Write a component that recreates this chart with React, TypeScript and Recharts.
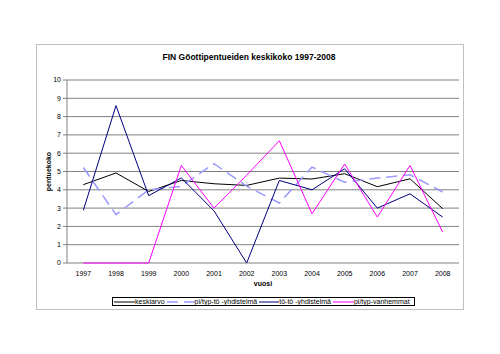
import React from 'react';
import { LineChart, Line, XAxis, YAxis, CartesianGrid, Legend } from 'recharts';

const years = [1997, 1998, 1999, 2000, 2001, 2002, 2003, 2004, 2005, 2006, 2007, 2008];
const keskiarvo = [4.28, 4.92, 3.91, 4.51, 4.33, 4.24, 4.64, 4.59, 4.88, 4.17, 4.6, 2.97];
const piTypTo = [5.22, 2.64, 4.0, 4.19, 5.43, 4.2, 3.28, 5.24, 4.41, 4.64, 4.82, 3.88];
const toTo = [2.88, 8.6, 3.68, 4.65, 2.85, 0, 4.51, 4.0, 5.15, 3.0, 3.78, 2.51];
const piTypVanhemmat = [0, 0, 0, 5.33, 3.0, 4.8, 6.68, 2.69, 5.41, 2.51, 5.33, 1.69];
const yTicks = [0, 1, 2, 3, 4, 5, 6, 7, 8, 9, 10];
const boundaryTicks = [1996.5, ...years.map((y) => y + 0.5)];

const data = years.map((year, i) => ({
  year,
  keskiarvo: keskiarvo[i],
  piTypTo: piTypTo[i],
  toTo: toTo[i],
  piTypVanhemmat: piTypVanhemmat[i],
}));

const series = [
  { key: 'keskiarvo', name: 'keskiarvo', color: '#000000', dash: undefined, lineW: 21 },
  { key: 'piTypTo', name: 'pi/typ-tö -yhdistelmä', color: '#9999FF', dash: '11 6', lineW: 28 },
  { key: 'toTo', name: 'tö-tö -yhdistelmä', color: '#000080', dash: undefined, lineW: 20 },
  { key: 'piTypVanhemmat', name: 'pi/typ-vanhemmat', color: '#FF00FF', dash: undefined, lineW: 21 },
];

const font = '"Liberation Sans", Arial, sans-serif';

const renderLegend = () => (
  <div
    style={{
      display: 'flex',
      alignItems: 'center',
      gap: 2,
      border: '1px solid #000',
      height: 9,
      padding: '0 1px',
      fontSize: 7,
      fontFamily: font,
      lineHeight: '9px',
      boxSizing: 'border-box',
      background: '#fff',
      color: '#000',
    }}
  >
    {series.map((s) => (
      <div key={s.key} style={{ display: 'flex', alignItems: 'center' }}>
        <svg width={s.lineW} height={4} style={{ display: 'block' }}>
          <line x1={0} y1={2} x2={s.lineW} y2={2} stroke={s.color} strokeWidth={s.dash ? 1.5 : 1} strokeDasharray={s.dash} />
        </svg>
        <span>{s.name}</span>
      </div>
    ))}
  </div>
);

const App: React.FC = () => {
  return (
    <div style={{ position: 'absolute', left: 0, top: 0, width: 500, height: 354, background: '#fff', fontFamily: font }}>
      <div
        style={{
          position: 'absolute',
          left: 36,
          top: 44,
          width: 426,
          height: 264,
          border: '1px solid #C0C0C0',
        }}
      />
      <div
        style={{
          position: 'absolute',
          left: 0,
          width: 498,
          top: 52,
          textAlign: 'center',
          fontSize: 8.5,
          fontWeight: 'bold',
          lineHeight: '10px',
        }}
      >
        FIN Göottipentueiden keskikoko 1997-2008
      </div>
      <LineChart
        width={500}
        height={354}
        data={data}
        margin={{ top: 80, right: 41, left: 37, bottom: 62 }}
        style={{ position: 'absolute', left: 0, top: 0 }}
      >
        <CartesianGrid vertical={false} stroke="#808080" horizontalValues={yTicks} yAxisId="left" />
        <XAxis
          xAxisId="bounds"
          dataKey="year"
          type="number"
          domain={[1996.5, 2008.5]}
          ticks={boundaryTicks}
          tickFormatter={() => ''}
          height={0}
          tickSize={3}
          stroke="#808080"
          allowDataOverflow
        />
        <XAxis
          xAxisId="main"
          dataKey="year"
          type="number"
          domain={[1996.5, 2008.5]}
          ticks={years}
          tickLine={false}
          axisLine={false}
          height={20}
          tickMargin={2}
          tick={{ fill: '#000', fontSize: 7, fontFamily: font }}
          label={{ value: 'vuosi', position: 'bottom', offset: -2, fill: '#000', fontSize: 7, fontWeight: 'bold', fontFamily: font }}
        />
        <YAxis
          yAxisId="left"
          domain={[0, 10]}
          ticks={yTicks}
          width={30}
          tickSize={4}
          tickMargin={2}
          stroke="#808080"
          interval={0}
          tick={{ fill: '#000', fontSize: 7, fontFamily: font }}
          label={{ value: 'pentuekoko', angle: -90, position: 'insideLeft', offset: 12, style: { textAnchor: 'middle' }, fill: '#000', fontSize: 7, fontWeight: 'bold', fontFamily: font }}
        />
        <YAxis yAxisId="right" orientation="right" domain={[0, 10]} width={0} tick={false} tickLine={false} stroke="#808080" />
        {series.map((s) => (
          <Line
            key={s.key}
            xAxisId="main"
            yAxisId="left"
            type="linear"
            dataKey={s.key}
            name={s.name}
            stroke={s.color}
            strokeWidth={s.dash ? 1.5 : 1}
            strokeDasharray={s.dash}
            dot={false}
            activeDot={false}
            isAnimationActive={false}
          />
        ))}
        <Legend content={renderLegend} wrapperStyle={{ position: 'absolute', left: 112, top: 297, width: 303, height: 9 }} />
      </LineChart>
    </div>
  );
};

export default App;
